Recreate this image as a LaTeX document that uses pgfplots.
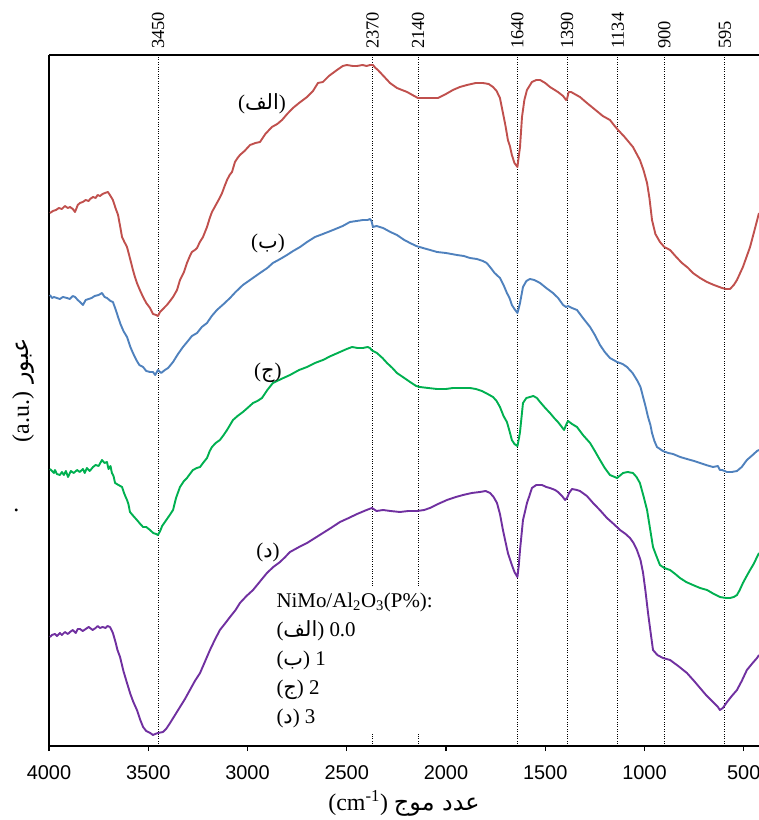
\documentclass[border=0pt]{standalone}
\usepackage{fontspec}
\usepackage{pgfplots}
\pgfplotsset{compat=1.18}
\TeXXeTstate=1
\setmainfont{Liberation Serif}
\newfontfamily\sansnum{Liberation Sans}
\newfontfamily\arabicfont[Script=Arabic]{DejaVu Sans}
\newcommand{\ar}[1]{{\arabicfont\beginR #1\endR}}
\definecolor{cRed}{HTML}{C0504D}
\definecolor{cBlue}{HTML}{4F81BD}
\definecolor{cGreen}{HTML}{00B050}
\definecolor{cPurple}{HTML}{7030A0}

\begin{document}
\begin{tikzpicture}
\useasboundingbox (-49bp,-74bp) rectangle (710bp,746bp);
% top axis: peak positions and dotted guide lines
\begin{axis}[
 scale only axis, width=710bp, height=691bp,
 x dir=reverse, xmin=423, xmax=4000, ymin=0, ymax=691,
 axis x line*=top, axis y line=none,
 axis line style={-, line width=1.2bp},
 xtick={3450,2370,2140,1640,1390,1134,900,595},
 xticklabels={},
 major tick length=0pt,
 xmajorgrids, grid style={black, dotted, line width=0.9bp},
 ytick=\empty,
 clip=false,
]
\addplot[draw=none] coordinates {(1000,0)};
\end{axis}
% main axis
\begin{axis}[
 scale only axis, width=710bp, height=691bp,
 x dir=reverse, xmin=423, xmax=4000, ymin=0, ymax=691,
 axis x line*=bottom, axis y line*=left,
 x axis line style={-, line width=2.2bp},
 y axis line style={-, line width=1.3bp},
 xtick={4000,3500,3000,2500,2000,1500,1000,500},
 xticklabels={4000,3500,3000,2500,2000,1500,1000,500},
 tick align=outside, major tick length=5bp,
 every tick/.style={black, line width=1.3bp},
 ytick=\empty,
 xticklabel style={font=\sansnum\fontsize{20}{20}\selectfont},
 xticklabel shift=11bp,
 xlabel={(cm\textsuperscript{-1}) {\arabicfont\beginR عدد موج\endR}},
 xlabel style={font=\fontsize{24}{24}\selectfont, at={(axis description cs:0.5,0)}, anchor=center, yshift=-57bp},
 ylabel={(a.u.) {\arabicfont\beginR عبور\endR}},
 ylabel style={font=\fontsize{24}{24}\selectfont, at={(axis description cs:-0.036,0.515)}, anchor=center},
 every axis plot/.append style={line width=1.9bp, line join=round},
 clip=false,
]
\addplot[cRed] table {
3995 533
3980 535
3965 536
3950 538
3935 537
3920 540
3905 538
3894 539
3880 537
3869 534
3855 541
3844 543
3830 544
3815 546
3800 545
3793 547
3778 549
3765 548
3755 551
3743 550
3730 552
3718 553
3703 554
3690 550
3678 546
3665 538
3652 531
3640 518
3632 509
3620 504
3607 499
3595 490
3577 476
3567 469
3557 463
3540 455
3526 449
3510 443
3491 438
3476 432
3460 431
3451 430
3441 434
3426 437
3406 441
3390 445
3375 449
3355 456
3340 466
3320 474
3305 483
3290 490
3280 494
3265 496
3254 498
3240 504
3224 509
3204 519
3190 528
3179 534
3165 539
3154 543
3140 548
3128 553
3115 560
3103 566
3090 571
3078 574
3063 584
3050 588
3038 591
3015 595
2987 601
2960 603
2937 604
2910 612
2877 619
2850 622
2826 626
2800 632
2771 638
2740 643
2700 649
2670 655
2645 663
2620 664
2590 670
2549 676
2520 680
2499 681
2470 680
2448 680
2420 681
2400 680
2383 681
2368 681
2355 678
2343 676
2310 669
2282 663
2247 658
2196 654
2160 650
2141 648
2100 648
2040 648
2000 652
1965 656
1930 659
1894 661
1850 663
1814 663
1785 662
1763 659
1745 655
1728 648
1713 633
1700 620
1688 606
1678 600
1668 591
1655 583
1640 579
1633 590
1627 599
1617 629
1605 646
1592 656
1567 664
1545 666
1526 666
1500 663
1476 659
1436 654
1410 650
1395 646
1390 647
1382 654
1370 654
1325 649
1290 643
1259 638
1210 630
1174 626
1150 620
1133 616
1100 609
1058 599
1023 586
1005 576
987 563
975 548
962 526
945 512
922 504
900 499
871 496
840 489
811 483
780 478
756 473
720 468
685 464
650 461
609 458
590 457
569 457
550 461
534 466
504 479
468 499
440 520
423 533
};
\addplot[cBlue] table {
3995 451
3985 448
3975 449
3960 448
3945 447
3930 449
3909 448
3895 447
3880 450
3869 449
3855 446
3844 444
3829 441
3815 446
3800 447
3785 448
3770 450
3750 451
3733 453
3720 449
3708 448
3690 445
3678 444
3665 437
3652 429
3640 422
3625 415
3607 409
3590 399
3577 393
3560 386
3545 381
3526 379
3510 375
3491 374
3476 374
3465 371
3451 376
3435 373
3416 376
3400 378
3375 384
3350 392
3325 399
3300 405
3280 410
3254 413
3230 419
3204 423
3180 430
3154 436
3120 442
3088 448
3060 454
3023 461
2980 467
2937 473
2900 478
2872 483
2835 487
2801 491
2770 495
2735 499
2700 504
2660 509
2620 512
2569 516
2520 520
2484 524
2450 525
2418 526
2395 526
2383 527
2375 525
2368 519
2350 520
2317 518
2280 514
2247 511
2210 506
2181 503
2150 500
2116 498
2080 496
2045 494
2000 493
1945 491
1910 490
1879 488
1845 487
1814 485
1795 483
1778 479
1755 473
1728 468
1710 461
1693 453
1680 448
1668 441
1655 437
1640 433
1633 438
1627 443
1612 459
1595 465
1577 467
1555 466
1526 463
1495 458
1461 453
1435 448
1410 441
1395 439
1385 440
1365 438
1340 436
1310 428
1274 419
1250 411
1224 401
1200 394
1174 388
1138 384
1110 382
1088 379
1060 373
1038 366
1020 359
1007 349
995 340
982 329
970 321
962 313
950 305
937 299
907 295
880 293
856 292
820 289
786 287
750 285
720 283
690 281
655 279
630 280
620 276
609 276
584 274
560 274
534 275
510 279
484 286
455 291
433 295
423 296
};
\addplot[cGreen] table {
3995 277
3985 275
3975 273
3970 276
3960 272
3945 271
3935 274
3925 271
3915 275
3904 269
3890 275
3875 273
3859 276
3845 274
3829 277
3820 273
3809 278
3795 275
3778 279
3765 281
3750 280
3733 286
3720 283
3708 284
3700 277
3690 280
3683 273
3675 270
3667 263
3650 261
3632 259
3620 252
3607 246
3600 242
3592 234
3575 230
3557 226
3540 222
3526 219
3510 219
3491 216
3475 213
3460 212
3451 211
3440 215
3430 220
3416 224
3395 230
3375 236
3360 248
3340 259
3320 265
3305 268
3290 272
3275 276
3255 278
3239 279
3220 284
3204 288
3190 295
3179 299
3160 303
3139 306
3120 311
3103 316
3085 322
3073 326
3050 330
3023 334
3000 338
2972 343
2950 345
2927 348
2900 356
2872 363
2830 367
2786 371
2740 376
2700 379
2660 383
2620 386
2580 390
2534 394
2500 397
2473 399
2445 398
2418 398
2395 399
2383 398
2375 396
2368 395
2348 393
2320 388
2297 383
2270 378
2247 373
2210 368
2181 364
2150 360
2131 359
2090 358
2045 357
2000 357
1965 358
1920 358
1879 358
1850 357
1819 355
1790 352
1763 349
1745 345
1728 339
1710 330
1693 324
1680 315
1668 306
1655 302
1640 300
1633 307
1627 314
1612 343
1595 348
1577 349
1560 350
1542 348
1526 344
1500 338
1476 333
1455 328
1436 324
1420 320
1405 316
1395 321
1385 325
1365 322
1340 319
1310 311
1274 303
1250 295
1224 286
1200 278
1174 271
1150 269
1138 268
1120 271
1108 273
1085 274
1058 273
1040 269
1023 263
1005 250
987 236
970 215
957 199
940 190
922 181
900 178
871 176
845 172
821 168
790 164
756 161
720 158
685 156
650 152
620 149
590 148
569 148
550 149
534 151
520 156
504 163
485 170
468 176
450 182
433 189
423 193
};
\addplot[cPurple] table {
3995 109
3985 111
3970 112
3960 110
3945 113
3935 111
3920 114
3905 112
3894 114
3880 116
3865 113
3855 117
3844 117
3830 115
3815 117
3800 119
3793 118
3780 116
3765 118
3755 120
3743 118
3730 119
3715 118
3705 120
3693 119
3685 116
3678 113
3665 104
3655 96
3642 89
3625 75
3607 63
3590 52
3575 44
3557 36
3540 26
3526 19
3510 15
3490 13
3476 11
3465 12
3451 13
3426 14
3410 17
3390 23
3365 31
3340 39
3315 47
3290 56
3265 65
3239 73
3215 84
3189 96
3165 106
3139 116
3115 122
3088 129
3060 136
3038 143
3005 150
2972 156
2935 165
2902 173
2870 179
2836 184
2810 189
2786 194
2740 199
2700 203
2660 208
2620 213
2580 218
2534 224
2490 228
2448 232
2400 236
2373 238
2350 235
2317 236
2280 235
2232 234
2190 235
2146 235
2110 236
2081 238
2040 242
1995 246
1950 249
1914 251
1870 253
1829 254
1800 255
1778 253
1760 249
1743 243
1728 232
1713 216
1700 204
1688 193
1678 187
1668 181
1655 174
1640 169
1633 181
1627 196
1612 226
1600 236
1592 243
1580 250
1567 258
1545 261
1516 261
1495 259
1476 258
1450 256
1436 254
1415 250
1400 246
1390 248
1380 253
1365 257
1340 256
1325 255
1290 250
1259 243
1225 236
1189 228
1155 222
1123 216
1095 212
1073 208
1055 203
1038 196
1020 186
1007 173
995 155
982 133
970 115
957 96
935 91
907 88
871 86
830 80
786 73
750 65
720 58
690 51
655 44
630 39
620 36
605 38
584 44
560 50
534 56
510 65
484 76
455 83
433 88
423 91
};
\node[font=\fontsize{21}{21}\selectfont] at (axis cs:2927,642) {(\ar{الف})};
\node[font=\fontsize{21}{21}\selectfont] at (axis cs:2897,503) {(\ar{ب})};
\node[font=\fontsize{21}{21}\selectfont] at (axis cs:2897,373) {(\ar{ج})};
\node[font=\fontsize{21}{21}\selectfont] at (axis cs:2897,194) {(\ar{د})};
\node[anchor=north west, fill=white, inner sep=5bp, align=left,
      font=\fontsize{21}{29}\selectfont] at (axis cs:2880,158)
 {NiMo/Al\textsubscript{2}O\textsubscript{3}(P\%):\\
  (\ar{الف}) 0.0\\
  (\ar{ب}) 1\\
  (\ar{ج}) 2\\
  (\ar{د}) 3};
\pgfplotsinvokeforeach{3450,2370,2140,1640,1390,1134,900,595}{
  \node[rotate=90, anchor=west, inner sep=0pt, font=\fontsize{18.5}{18.5}\selectfont]
    at (axis cs:#1,697) {#1};
}
\node[font=\fontsize{24}{24}\selectfont, anchor=base] at (axis description cs:-0.046,0.34) {.};
\end{axis}
\end{tikzpicture}
\end{document}
